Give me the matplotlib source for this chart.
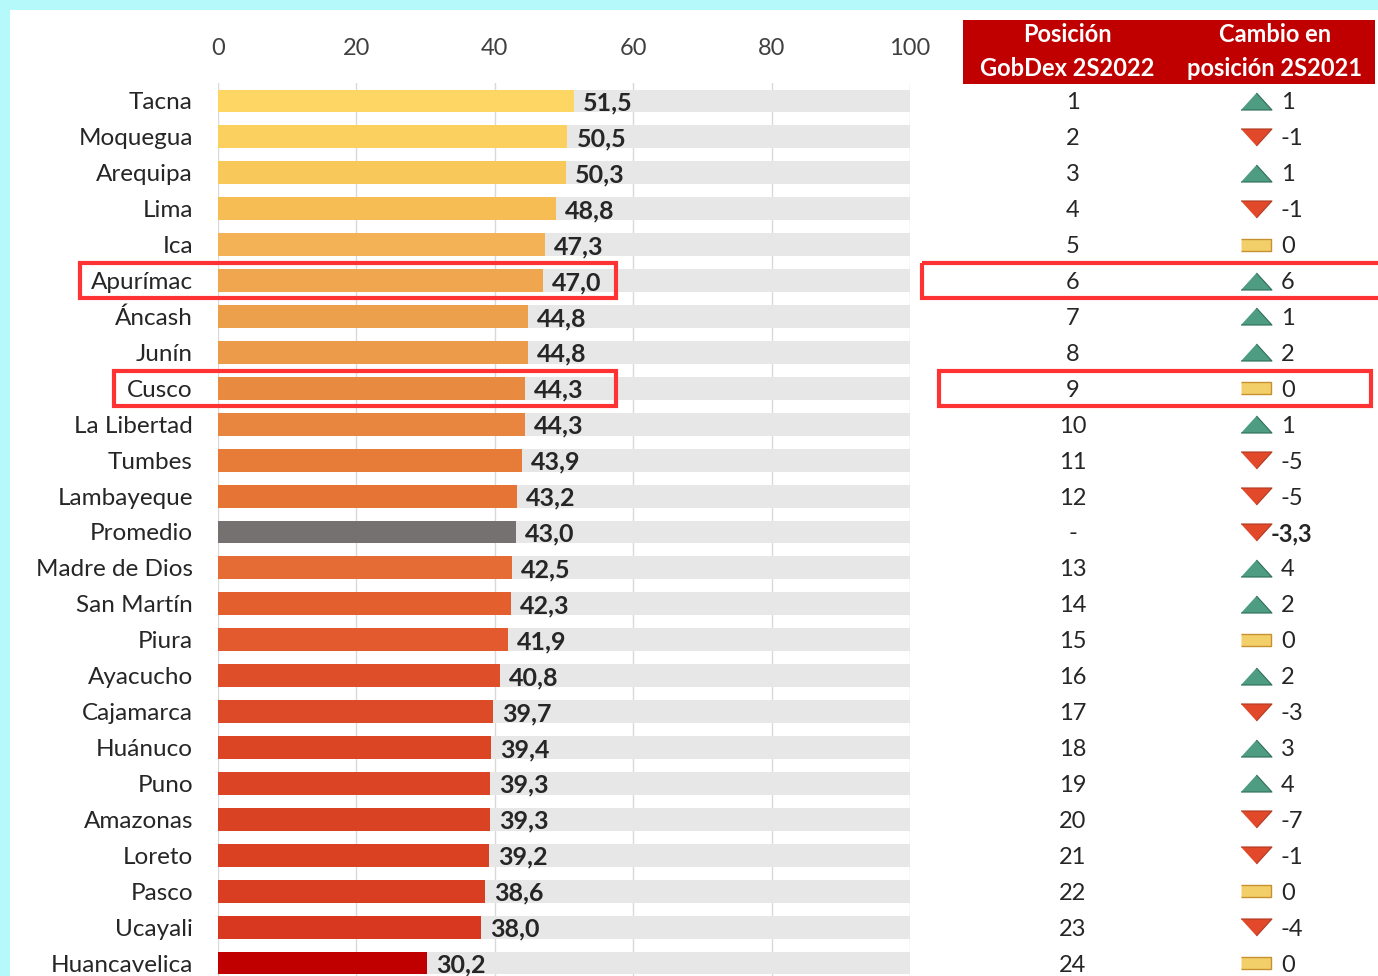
import matplotlib
matplotlib.use('Agg')
import matplotlib.pyplot as plt
from matplotlib.patches import Rectangle

plt.rcParams['font.family'] = ['Lato', 'DejaVu Sans']

# Data
regions = ['Tacna', 'Moquegua', 'Arequipa', 'Lima', 'Ica', 'Apurímac', 'Áncash', 'Junín',
           'Cusco', 'La Libertad', 'Tumbes', 'Lambayeque', 'Promedio', 'Madre de Dios',
           'San Martín', 'Piura', 'Ayacucho', 'Cajamarca', 'Huánuco', 'Puno', 'Amazonas',
           'Loreto', 'Pasco', 'Ucayali', 'Huancavelica']
scores = [51.5, 50.5, 50.3, 48.8, 47.3, 47.0, 44.8, 44.8, 44.3, 44.3, 43.9, 43.2, 43.0,
          42.5, 42.3, 41.9, 40.8, 39.7, 39.4, 39.3, 39.3, 39.2, 38.6, 38.0, 30.2]
position_2022 = ['1', '2', '3', '4', '5', '6', '7', '8', '9', '10', '11', '12', '-',
                 '13', '14', '15', '16', '17', '18', '19', '20', '21', '22', '23', '24']
change_2021 = [1, -1, 1, -1, 0, 6, 1, 2, 0, 1, -5, -5, -3.3, 4, 2, 0, 2, -3, 3, 4, -7, -1, 0, -4, 0]
highlighted = ['Apurímac', 'Cusco']
xticks = [0, 20, 40, 60, 80, 100]

bar_colors = ['#FDD663', '#FCD05E', '#F9C85A', '#F6BD55', '#F2B255', '#EFA64E', '#EDA04B',
              '#EC9B4B', '#E88A40', '#E8853E', '#E77B38', '#E67535', '#767171', '#E56C35',
              '#E35F2E', '#E25A2D', '#DE4E28', '#DD4A27', '#DB4524', '#DB4424', '#DA4224',
              '#DA4123', '#D93E22', '#D83820', '#C00000']

W, H = 1378, 976
fig = plt.figure(figsize=(W / 100, H / 100), dpi=100)
fig.patch.set_facecolor('#B6F9FB')
fig.add_artist(Rectangle((10 / W, 0), 1 - 10 / W, 1 - 10 / H, transform=fig.transFigure,
                         facecolor='white', edgecolor='none', zorder=-10))

row_px = 35.917
top_px = 101 - 0.5 * row_px
ax = fig.add_axes([218 / W, 0, 692 / W, (H - top_px) / H])
ax.set_facecolor('none')
n = len(regions)
y = list(range(n))
ax.set_xlim(0, 100)
ax.set_ylim(24 + (H - 963) / row_px, -0.5)

ax.barh(y, [100] * n, height=0.64, color='#E7E7E7', zorder=1)
ax.barh(y, scores, height=0.64, color=bar_colors, zorder=2)
for xv in xticks:
    ax.axvline(xv, color='#D9D9D9', lw=1, zorder=0.5)

for i, v in enumerate(scores):
    ax.text(v + 1.3, i, f'{v:.1f}'.replace('.', ','), va='center_baseline', ha='left',
            fontsize=18, fontweight='bold', color='#262626', zorder=3)

ax.set_yticks(y)
ax.set_yticklabels(regions, fontsize=17.5, color='#262626')
ax.xaxis.tick_top()
ax.set_xticks(xticks)
ax.set_xticklabels([str(t) for t in xticks], fontsize=17, color='#404040')
ax.tick_params(length=0)
ax.tick_params(axis='x', pad=17)
ax.tick_params(axis='y', pad=18)
for s in ax.spines.values():
    s.set_visible(False)

# table side, x in pixels, y shared rows
ax2 = fig.add_axes([0, 0, 1, (H - top_px) / H], sharey=ax)
ax2.set_xlim(0, W)
ax2.axis('off')
ax2.patch.set_visible(False)

fig.add_artist(Rectangle((963 / W, 1 - 84 / H), (1375 - 963) / W, 64 / H,
                         transform=fig.transFigure, facecolor='#C00000', edgecolor='none'))
for cx, l1, l2 in [(1067, 'Posición', 'GobDex 2S2022'), (1275, 'Cambio en', 'posición 2S2021')]:
    fig.text(cx / W, 1 - 35 / H, l1, ha='center', va='center', color='white',
             fontsize=17, fontweight='bold')
    fig.text(cx / W, 1 - 69 / H, l2, ha='center', va='center', color='white',
             fontsize=17, fontweight='bold')

up = [(-1, -0.55), (1, -0.55), (0, 0.55)]
down = [(-1, 0.55), (1, 0.55), (0, -0.55)]
flat = [(-1, -0.36), (1, -0.36), (1, 0.36), (-1, 0.36)]
for i, (p, c) in enumerate(zip(position_2022, change_2021)):
    ax2.text(1073, i, p, ha='center', va='center_baseline', fontsize=17, color='#262626')
    if c > 0:
        ax2.scatter(1256, i, marker=up, s=497, color='#4E9C82', edgecolors='#2F6E5A', lw=0.8)
    elif c < 0:
        ax2.scatter(1256, i, marker=down, s=497, color='#E2482A', edgecolors='#B03A20', lw=0.8)
    else:
        ax2.scatter(1256, i, marker=flat, s=497, color='#F3CF6A', edgecolors='#C8912F', lw=1)
    if isinstance(c, float):
        ax2.text(1271, i, f'{c:.1f}'.replace('.', ','), ha='left', va='center_baseline',
                 fontsize=17, fontweight='bold', color='#262626')
    else:
        ax2.text(1281, i, str(c), ha='left', va='center_baseline', fontsize=17, color='#262626')

# highlight boxes
box_x = {'Apurímac': [(80, 616), (922, 1382)], 'Cusco': [(114, 616), (939, 1371)]}
for name in highlighted:
    i = regions.index(name)
    for x0, x1 in box_x[name]:
        ax2.add_patch(Rectangle((x0, i - 0.48), x1 - x0, 0.96, fill=False,
                                edgecolor='#FF3333', lw=3, clip_on=False, zorder=5))

fig.savefig('out.png', dpi=100)
